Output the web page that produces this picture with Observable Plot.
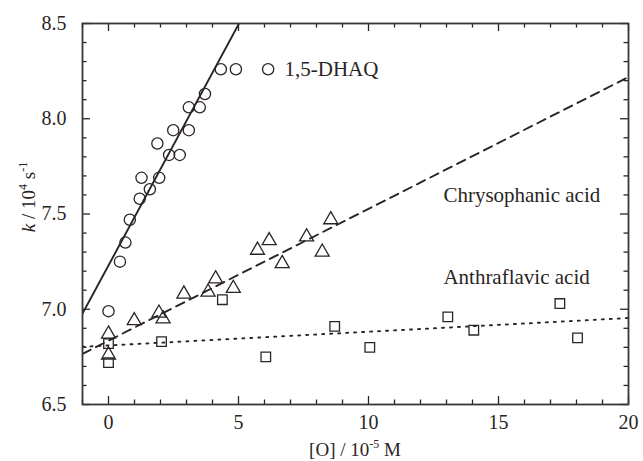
<!DOCTYPE html>
<html><head><meta charset="utf-8">
<script src="https://cdn.jsdelivr.net/npm/d3@7"></script>
<script src="https://cdn.jsdelivr.net/npm/@observablehq/plot@0.6"></script>
<style>body{margin:0;background:#fff} svg text{font-family:'Liberation Serif', serif}</style>
</head><body><div id="chart"></div>
<script>
// 1,5-DHAQ (circles)
const dhaqX = [0, 0.44, 0.65, 0.82, 1.2, 1.27, 1.59, 1.88, 1.95, 2.33, 2.49, 2.74, 3.09, 3.09, 3.51, 3.71, 4.32, 4.9, 6.14];
const dhaqY = [6.99, 7.25, 7.35, 7.47, 7.58, 7.69, 7.63, 7.87, 7.69, 7.81, 7.94, 7.81, 7.94, 8.06, 8.06, 8.13, 8.26, 8.26, 8.26];
// Chrysophanic acid (triangles)
const chrysX = [0, 0, 0.99, 1.94, 2.1, 2.9, 3.83, 4.12, 4.8, 5.73, 6.18, 6.68, 7.62, 8.22, 8.55];
const chrysY = [6.87, 6.76, 6.94, 6.98, 6.95, 7.08, 7.09, 7.16, 7.11, 7.31, 7.36, 7.24, 7.38, 7.30, 7.47];
// Anthraflavic acid (squares)
const anthX = [0, 0, 2.04, 4.38, 6.05, 8.7, 10.05, 13.05, 14.05, 17.36, 18.04];
const anthY = [6.82, 6.72, 6.83, 7.05, 6.75, 6.91, 6.80, 6.96, 6.89, 7.03, 6.85];
// linear fits (k = a + b*[O])
const fitNames = ["1,5-DHAQ", "Chrysophanic acid", "Anthraflavic acid"];
const fitIntercepts = [7.23, 6.835, 6.81];
const fitSlopes = [0.253, 0.0692, 0.0072];
const fitRange = [-1, 20];
// labels
const labelText = ["1,5-DHAQ", "Chrysophanic acid", "Anthraflavic acid"];
const labelX = [6.77, 12.88, 12.88];
const labelY = [8.26, 7.597, 7.17];
// ticks
const xMajor = [0, 5, 10, 15, 20];
const xMinor = d3.range(-1, 21).filter(v => v % 5 !== 0);
const yMajor = [6.5, 7.0, 7.5, 8.0, 8.5];
const yMinor = d3.range(65, 86).map(v => v / 10).filter(v => Math.round(v * 10) % 5 !== 0);

const W = 643, H = 461, mL = 82, mR = 15, mT = 23, mB = 57;
const pw = W - mL - mR, ph = H - mT - mB;
const ink = "#2a2523";
const serif = "'Liberation Serif', serif";

const pts = (xs, ys) => xs.map((x, i) => ({x, y: ys[i]}));
const fitLine = i => fitRange.map(x => ({x, y: fitIntercepts[i] + fitSlopes[i] * x}));
const labels = labelText.map((t, i) => ({t, x: labelX[i], y: labelY[i]}));

const plot = Plot.plot({
  width: W, height: H,
  marginLeft: mL, marginRight: mR, marginTop: mT, marginBottom: mB,
  style: {fontFamily: serif, fontSize: "20px", color: ink, background: "#fff"},
  x: {domain: [-1, 20]},
  y: {domain: [6.5, 8.5]},
  marks: [
    Plot.line(fitLine(0), {x: "x", y: "y", stroke: ink, strokeWidth: 1.9, clip: true}),
    Plot.line(fitLine(1), {x: "x", y: "y", stroke: ink, strokeWidth: 1.9, strokeDasharray: "9,6", clip: true}),
    Plot.line(fitLine(2), {x: "x", y: "y", stroke: ink, strokeWidth: 1.9, strokeDasharray: "2,6", clip: true}),
    Plot.dot(pts(dhaqX, dhaqY), {x: "x", y: "y", symbol: "circle", r: 5.6, stroke: ink, strokeWidth: 1.3, fill: "none"}),
    Plot.dot(pts(chrysX, chrysY), {x: "x", y: "y", symbol: "triangle", r: 5.2, stroke: ink, strokeWidth: 1.3, fill: "none"}),
    Plot.dot(pts(anthX, anthY), {x: "x", y: "y", symbol: "square", r: 5.4, stroke: ink, strokeWidth: 1.3, fill: "none"}),
    Plot.text(labels, {x: "x", y: "y", text: "t", textAnchor: "start", fontSize: 21, fill: ink}),
    // inward ticks, bottom/top
    Plot.tickX(xMajor, {x: d => d, insetTop: ph - 8, stroke: ink, strokeWidth: 1.3}),
    Plot.tickX(xMinor, {x: d => d, insetTop: ph - 4.5, stroke: ink, strokeWidth: 1.3}),
    Plot.tickX(xMajor, {x: d => d, insetBottom: ph - 8, stroke: ink, strokeWidth: 1.3}),
    Plot.tickX(xMinor, {x: d => d, insetBottom: ph - 4.5, stroke: ink, strokeWidth: 1.3}),
    // inward ticks, left/right
    Plot.tickY(yMajor, {y: d => d, insetRight: pw - 8, stroke: ink, strokeWidth: 1.3}),
    Plot.tickY(yMinor, {y: d => d, insetRight: pw - 4.5, stroke: ink, strokeWidth: 1.3}),
    Plot.tickY(yMajor, {y: d => d, insetLeft: pw - 8, stroke: ink, strokeWidth: 1.3}),
    Plot.tickY(yMinor, {y: d => d, insetLeft: pw - 4.5, stroke: ink, strokeWidth: 1.3}),
    Plot.axisX({ticks: xMajor, tickSize: 0, tickPadding: 10, label: null, fontSize: 20}),
    Plot.axisY({ticks: yMajor, tickSize: 0, tickPadding: 16, tickFormat: d3.format(".1f"), label: null, fontSize: 20}),
    Plot.frame({stroke: "#3a3532", strokeWidth: 1.8})
  ]
});

const svg = d3.select(plot);
// x title
const xt = svg.append("text").attr("x", mL + pw / 2).attr("y", 456).attr("text-anchor", "middle")
  .attr("fill", ink).attr("font-size", 19).attr("font-family", serif);
xt.append("tspan").text("[O] / 10");
xt.append("tspan").attr("dy", -8).attr("font-size", 12).text("-5");
xt.append("tspan").attr("dy", 8).text(" M");
// y title
const yt = svg.append("text").attr("transform", `translate(35,${197}) rotate(-90)`).attr("text-anchor", "middle")
  .attr("fill", ink).attr("font-size", 19).attr("font-family", serif);
yt.append("tspan").attr("font-style", "italic").text("k");
yt.append("tspan").text(" / 10");
yt.append("tspan").attr("dy", -8).attr("font-size", 12).text("4");
yt.append("tspan").attr("dy", 8).text(" s");
yt.append("tspan").attr("dy", -8).attr("font-size", 12).text("-1");

document.getElementById("chart").appendChild(plot);
</script>
</body></html>
